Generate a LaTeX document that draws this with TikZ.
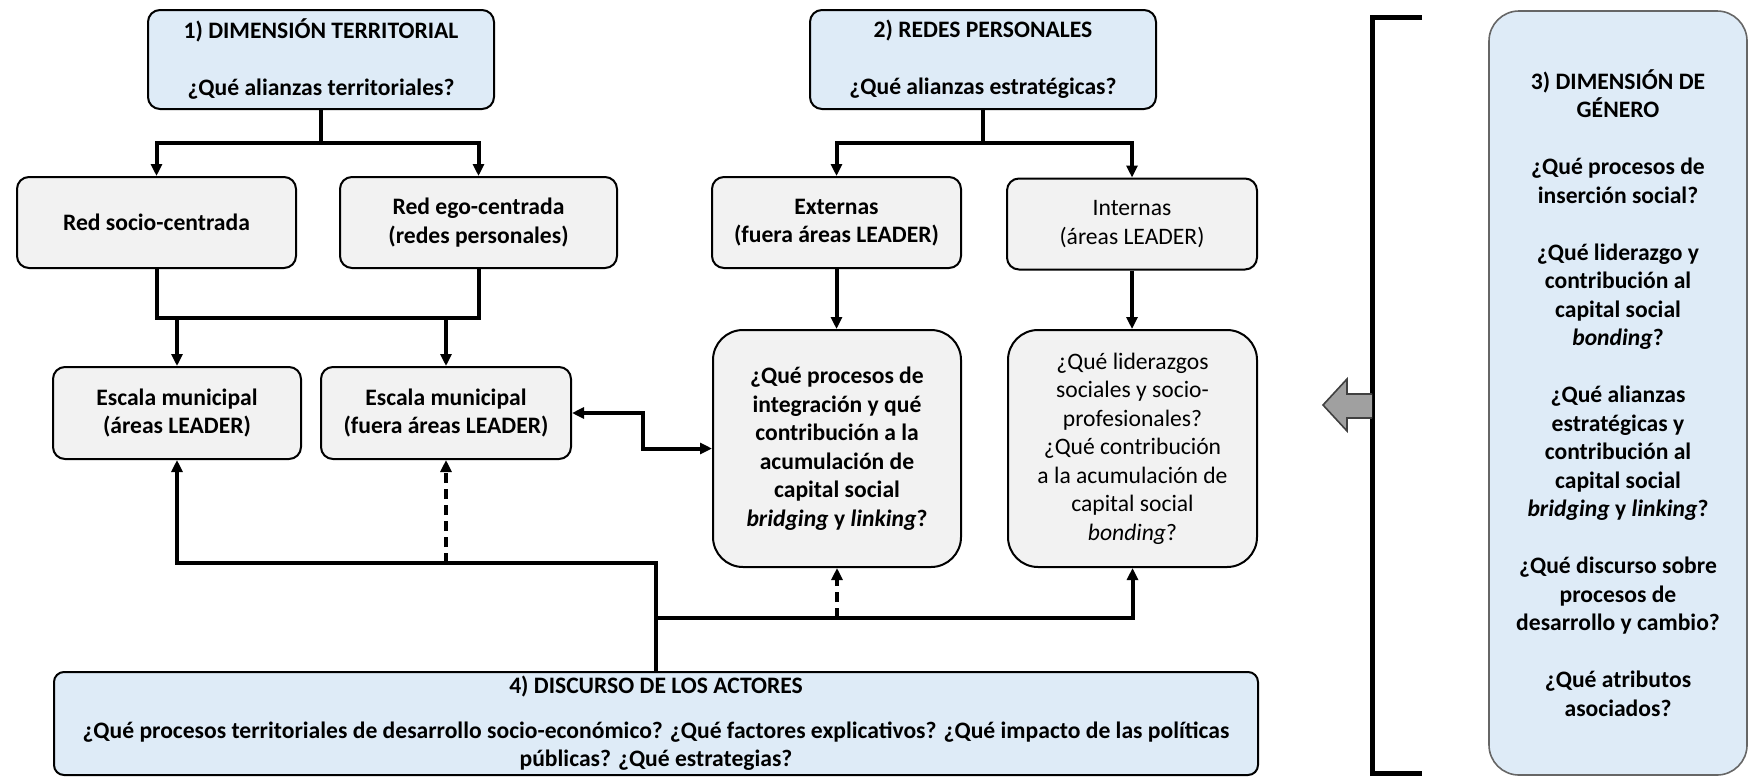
\documentclass[tikz,border=0pt]{standalone}
\usepackage{fontspec}
\setmainfont{Carlito}
\usepackage{tikz}
\usetikzlibrary{arrows.meta,positioning,calc}
\definecolor{boxblue}{RGB}{222,235,247}
\definecolor{boxgray}{RGB}{242,242,242}
\definecolor{arrowgray}{RGB}{160,160,160}

\begin{document}
\begin{tikzpicture}[x=0.5pt,y=-0.5pt,>={Triangle[length=6pt,width=5.5pt]},
     font=\fontsize{11.8}{14.25}\selectfont\bfseries,
     bb/.style={draw=black,line width=1pt,fill=boxblue,rounded corners=6pt,align=center,inner sep=0pt},
     gb/.style={draw=black,line width=1pt,fill=boxgray,rounded corners=6pt,align=center,inner sep=0pt},
     reg/.style={font=\fontsize{11.8}{14.25}\selectfont},
     ar/.style={->,line width=2pt},
     ln/.style={line width=2pt},
     da/.style={->,line width=2pt,dash pattern=on 5pt off 3pt}]
    \useasboundingbox (0,0) rectangle (1749,777);
    % top row
    \node[bb,minimum width=173pt,minimum height=49.5pt] (terr) at (321,59.5)
      {1) DIMENSIÓN TERRITORIAL\\[14.25pt]¿Qué alianzas territoriales?};
    \node[bb,minimum width=173pt,minimum height=49.5pt] (redes) at (983,59.5)
      {2) REDES PERSONALES\\[14.25pt]¿Qué alianzas estratégicas?};
    % second row
    \node[gb,minimum width=139.5pt,minimum height=45.5pt] (socio) at (156.5,222.5) {Red socio-centrada};
    \node[gb,minimum width=138.5pt,minimum height=45.5pt] (ego) at (478.5,222.5) {Red ego-centrada\\(redes personales)};
    \node[gb,minimum width=124.5pt,minimum height=45.5pt] (ext) at (836.5,222.5) {Externas\\(fuera áreas LEADER)};
    \node[gb,reg,minimum width=125pt,minimum height=45.5pt] (intr) at (1132,224) {Internas\\(áreas LEADER)};
    % third row
    \node[gb,minimum width=124pt,minimum height=46pt] (esc1) at (177,413) {Escala municipal\\(áreas LEADER)};
    \node[gb,minimum width=125pt,minimum height=46pt] (esc2) at (446,413) {Escala municipal\\(fuera áreas LEADER)};
    \node[gb,rounded corners=15pt,minimum width=124pt,minimum height=118.5pt] (bridg) at (837,448.5)
      {¿Qué procesos de\\integración y qué\\contribución a la\\acumulación de\\capital social\\\textit{bridging} y \textit{linking}?};
    \node[gb,reg,rounded corners=15pt,minimum width=124.5pt,minimum height=118.5pt] (bond) at (1132.5,448.5)
      {¿Qué liderazgos\\sociales y socio-\\profesionales?\\¿Qué contribución\\a la acumulación de\\capital social\\\textit{bonding}?};
    % bottom box
    \node[bb,rounded corners=5pt,minimum width=602pt,minimum height=51.5pt] (disc) at (656,723.5)
      {4) DISCURSO DE LOS ACTORES\\[8pt]¿Qué procesos territoriales de desarrollo socio-económico? ¿Qué factores explicativos? ¿Qué impacto de las políticas\\públicas? ¿Qué estrategias?};
    % gender box
    \node[bb,draw=black!60,line width=0.8pt,rounded corners=15pt,minimum width=129pt,minimum height=382pt] (gen) at (1618,393)
      {3) DIMENSIÓN DE\\GÉNERO\\[14.25pt]¿Qué procesos de\\inserción social?\\[14.25pt]¿Qué liderazgo y\\contribución al\\capital social\\\textit{bonding}?\\[14.25pt]¿Qué alianzas\\estratégicas y\\contribución al\\capital social\\\textit{bridging} y \textit{linking}?\\[14.25pt]¿Qué discurso sobre\\procesos de\\desarrollo y cambio?\\[14.25pt]¿Qué atributos\\asociados?};

    \coordinate (r1) at (0,143);
    \coordinate (r2) at (0,318);
    \coordinate (r3) at (0,563);
    \coordinate (r4) at (0,618);

    \draw[ln] (terr.south) -- (terr.south |- r1);
    \draw[ar] (terr.south |- r1) -| (socio.north);
    \draw[ar] (terr.south |- r1) -| (ego.north);
    \draw[ln] (redes.south) -- (redes.south |- r1);
    \draw[ar] (redes.south |- r1) -| (ext.north);
    \draw[ar] (redes.south |- r1) -| (intr.north);

    \draw[ln] (socio.south) |- (ego.south |- r2) -- (ego.south);
    \draw[ar] (esc1.north |- r2) -- (esc1.north);
    \draw[ar] (esc2.north |- r2) -- (esc2.north);
    \draw[ar] (ext.south) -- (ext.south |- bridg.north);
    \draw[ar] (intr.south) -- (intr.south |- bond.north);
    \draw[<->,line width=2pt] (esc2.east) -- ++(71,0) |- (bridg.west);

    \draw[ar] (disc.north) |- (esc1.south |- r3) -- (esc1.south);
    \draw[da] (esc2.south |- r3) -- (esc2.south);
    \draw[ar] (disc.north |- r4) -| (bond.south);
    \draw[da] (bridg.south |- r4) -- (bridg.south);

    % bracket and block arrow
    \draw[line width=2.5pt] (1422,17) -- (1372,17) -- (1372,773) -- (1422,773);
    \draw[draw=black!75,fill=arrowgray,line width=0.8pt]
      (1372,394) -- (1347,394) -- (1347,379) -- (1323,405) -- (1347,431) -- (1347,418) -- (1372,418);
\end{tikzpicture}
\end{document}
